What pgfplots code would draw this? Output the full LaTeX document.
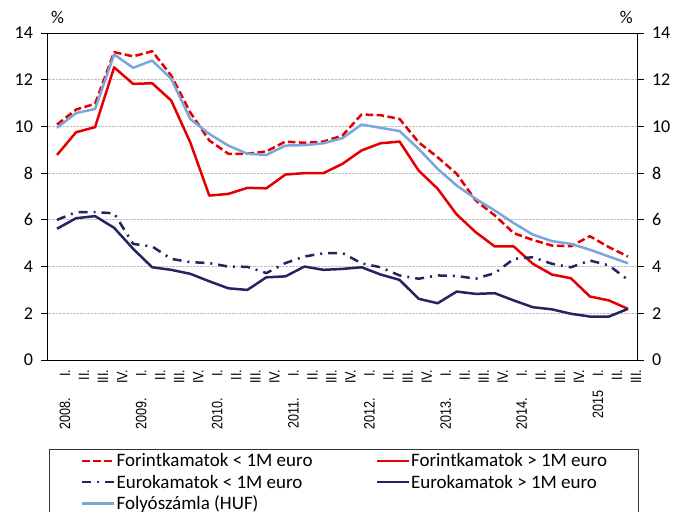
\documentclass[border=0pt]{standalone}
\usepackage{fontspec}
\setmainfont{Carlito}
\newfontfamily\xlabfont[FakeStretch=0.84]{Liberation Sans}
\newcommand{\xl}[1]{{\xlabfont\fontsize{15bp}{17bp}\selectfont #1}}
\usepackage{pgfplots}
\pgfplotsset{compat=1.18}
\usepackage{pgfplotstable}
\definecolor{cred}{RGB}{228,0,0}
\definecolor{cnavy}{RGB}{36,36,96}
\definecolor{cblue}{RGB}{122,166,218}
\pgfplotstableread{
i ftlow fthigh eulow euhigh folyo
0 10.08 8.78 6.00 5.62 9.94
1 10.72 9.75 6.33 6.07 10.57
2 10.97 9.97 6.33 6.16 10.75
3 13.18 12.53 6.28 5.66 13.08
4 13.00 11.82 4.97 4.76 12.51
5 13.22 11.85 4.86 3.97 12.82
6 12.18 11.11 4.33 3.86 12.04
7 10.60 9.32 4.19 3.69 10.32
8 9.40 7.04 4.15 3.37 9.68
9 8.83 7.11 4.00 3.07 9.18
10 8.83 7.37 3.99 3.00 8.83
11 8.93 7.35 3.72 3.54 8.78
12 9.35 7.94 4.15 3.58 9.18
13 9.30 8.00 4.43 4.00 9.20
14 9.35 8.00 4.57 3.86 9.28
15 9.61 8.40 4.58 3.90 9.50
16 10.51 8.97 4.14 3.97 10.08
17 10.48 9.28 3.97 3.66 9.94
18 10.32 9.35 3.62 3.43 9.80
19 9.32 8.11 3.48 2.62 9.04
20 8.68 7.33 3.62 2.43 8.18
21 7.97 6.23 3.60 2.93 7.47
22 6.83 5.47 3.48 2.83 6.90
23 6.19 4.86 3.72 2.86 6.40
24 5.43 4.86 4.33 2.55 5.86
25 5.14 4.12 4.40 2.26 5.37
26 4.90 3.66 4.12 2.17 5.09
27 4.87 3.50 3.97 1.98 4.97
28 5.30 2.72 4.26 1.86 4.72
29 4.83 2.55 4.05 1.86 4.43
30 4.43 2.19 3.43 2.19 4.14
}\datatab
\begin{document}
\begin{tikzpicture}
\useasboundingbox (-47.5bp,-152bp) rectangle (631.5bp,360bp);
\begin{axis}[
  at={(0,0)}, anchor=south west,
  scale only axis, width=590bp, height=327bp,
  xmin=-0.5, xmax=30.5, ymin=0, ymax=14,
  axis line style={black, line width=0.8bp},
  ytick={0,2,...,14},
  xtick={0,...,30},
  xticklabels={\xl{2008.\hspace{21bp}I.},\xl{II.},\xl{III.},\xl{IV.},\xl{2009.\hspace{21bp}I.},\xl{II.},\xl{III.},\xl{IV.},\xl{2010.\hspace{21bp}I.},\xl{II.},\xl{III.},\xl{IV.},\xl{2011.\hspace{21bp}I.},\xl{II.},\xl{III.},\xl{IV.},\xl{2012.\hspace{21bp}I.},\xl{II.},\xl{III.},\xl{IV.},\xl{2013.\hspace{21bp}I.},\xl{II.},\xl{III.},\xl{IV.},\xl{2014.\hspace{21bp}I.},\xl{II.},\xl{III.},\xl{IV.},\xl{2015\hspace{14bp}I.},\xl{II.},\xl{III.}},
  minor xtick={-0.5,0.5,...,30.5},
  xtick pos=bottom, ytick pos=left,
  tick align=outside,
  major tick length=6bp, minor tick length=6bp,
  xtick style={draw=none},
  minor tick style={black, line width=0.8bp, draw=black},
  ytick style={black, line width=0.8bp},
  ymajorgrids,
  major grid style={densely dotted, black!25, line width=0.9bp},
  /pgf/number format/assume math mode=true,
  yticklabel style={font=\fontsize{18bp}{21bp}\selectfont, xshift=-5bp},
  xticklabel style={rotate=90, anchor=east, yshift=-8bp},
  legend columns=2,
  legend cell align=left,
  legend style={at={(0.0025,-0.272)}, anchor=north west, draw=black!80, line width=0.7bp,
    inner xsep=31.7bp, inner ysep=1bp, row sep=0pt, column sep=0pt,
    font=\fontsize{19bp}{22bp}\selectfont,
    nodes={inner sep=0pt, minimum height=21.3bp}},
  legend image code/.code={\draw[#1] (0bp,0bp) -- (32bp,0bp);},
  every axis plot/.append style={line width=2.5bp, line join=round},
  clip=false,
]
\addplot[cred, dash pattern=on 7.5bp off 3.5bp] table[x=i,y=ftlow]{\datatab};
\addlegendentry{\makebox[260bp][l]{\hspace{1bp}Forintkamatok < 1M euro}}
\addplot[cred] table[x=i,y=fthigh]{\datatab};
\addlegendentry{\makebox[197bp][l]{\hspace{1bp}Forintkamatok > 1M euro}}
\addplot[cnavy, dash pattern=on 9bp off 6bp on 2bp off 6bp] table[x=i,y=eulow]{\datatab};
\addlegendentry{\makebox[260bp][l]{\hspace{1bp}Eurokamatok < 1M euro}}
\addplot[cnavy] table[x=i,y=euhigh]{\datatab};
\addlegendentry{\makebox[197bp][l]{\hspace{1bp}Eurokamatok > 1M euro}}
\addplot[cblue] table[x=i,y=folyo]{\datatab};
\addlegendentry{\makebox[260bp][l]{\hspace{1bp}Folyószámla (HUF)}}
\node[font=\fontsize{18bp}{21bp}\selectfont, anchor=base] at (rel axis cs:0.017,1.03) {\%};
\node[font=\fontsize{18bp}{21bp}\selectfont, anchor=base] at (rel axis cs:0.981,1.03) {\%};
\end{axis}
\begin{axis}[
  at={(0,0)}, anchor=south west,
  scale only axis, width=590bp, height=327bp,
  xmin=-0.5, xmax=30.5, ymin=0, ymax=14,
  axis x line=none, axis y line*=right,
  axis line style={black, line width=0.8bp},
  ytick={0,2,...,14},
  tick align=outside, major tick length=6bp,
  ytick style={black, line width=0.8bp},
  /pgf/number format/assume math mode=true,
  yticklabel style={font=\fontsize{18bp}{21bp}\selectfont, xshift=5bp},
]
\end{axis}
\end{tikzpicture}
\end{document}
